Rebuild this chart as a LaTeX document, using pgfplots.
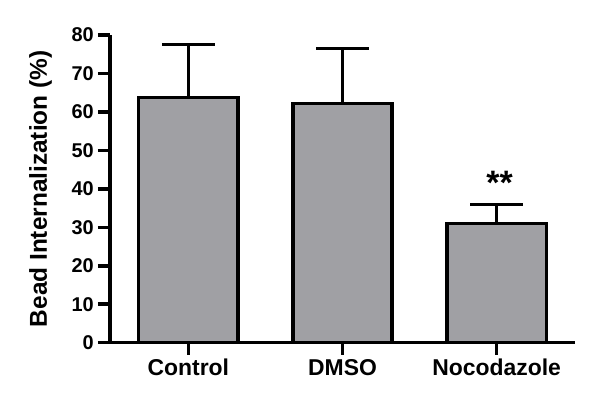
\documentclass[border=0pt]{standalone}
\usepackage{pgfplots}
\pgfplotsset{compat=1.18}
\usepackage{fontspec}
\setmainfont{Liberation Sans}
\definecolor{bargrey}{RGB}{160,160,164}
\newcommand{\yt}{\bfseries\fontsize{20}{22}\selectfont}
\begin{document}
\begin{tikzpicture}
\path[use as bounding box] (0,0) rectangle (600bp,400bp);
\begin{axis}[
  at={(110bp,57.3bp)}, anchor=south west,
  scale only axis, width=465bp, height=307.7bp,
  xmin=-0.508, xmax=2.508, ymin=0, ymax=80,
  axis lines=left,
  axis line style={line width=3.5bp, -},
  x axis line style={shorten <=-9bp},
  xtick={0,1,2},
  xticklabels={Control,DMSO,Nocodazole},
  ytick={0,10,20,30,40,50,60,70,80},
  yticklabels={{\yt 0},{\yt 10},{\yt 20},{\yt 30},{\yt 40},{\yt 50},{\yt 60},{\yt 70},{\yt 80}},
  tick align=outside,
  major tick length=12bp,
  xtick style={line width=3.5bp, black},
  ytick style={line width=3.5bp, black},
  yticklabel style={inner sep=2bp, xshift=-2bp},
  xticklabel style={font=\bfseries\fontsize{23}{26}\selectfont, text height=17bp, text depth=5bp},
  every axis y label/.style={at={(axis description cs:-0.1355,0.5)}, rotate=90, anchor=base},
  ylabel={\bfseries\fontsize{24.5}{28}\selectfont Bead Internalization (\%)},
  clip=false,
]
\addplot[ybar, bar width=99.3bp, fill=bargrey, draw=black, line width=3.5bp,
  error bars/.cd, y dir=plus, y explicit,
  error bar style={line width=3.2bp, black},
  error mark options={rotate=90, mark size=26.5bp, line width=3.2bp, black}]
  coordinates {(0,63.7) +- (0,13.9) (1,62.2) +- (0,14.2) (2,31.0) +- (0,5.0)};
\node[anchor=base, font=\bfseries\fontsize{34}{34}\selectfont, xshift=3bp] at (axis cs:2,38.6) {**};
\end{axis}
\end{tikzpicture}
\end{document}
